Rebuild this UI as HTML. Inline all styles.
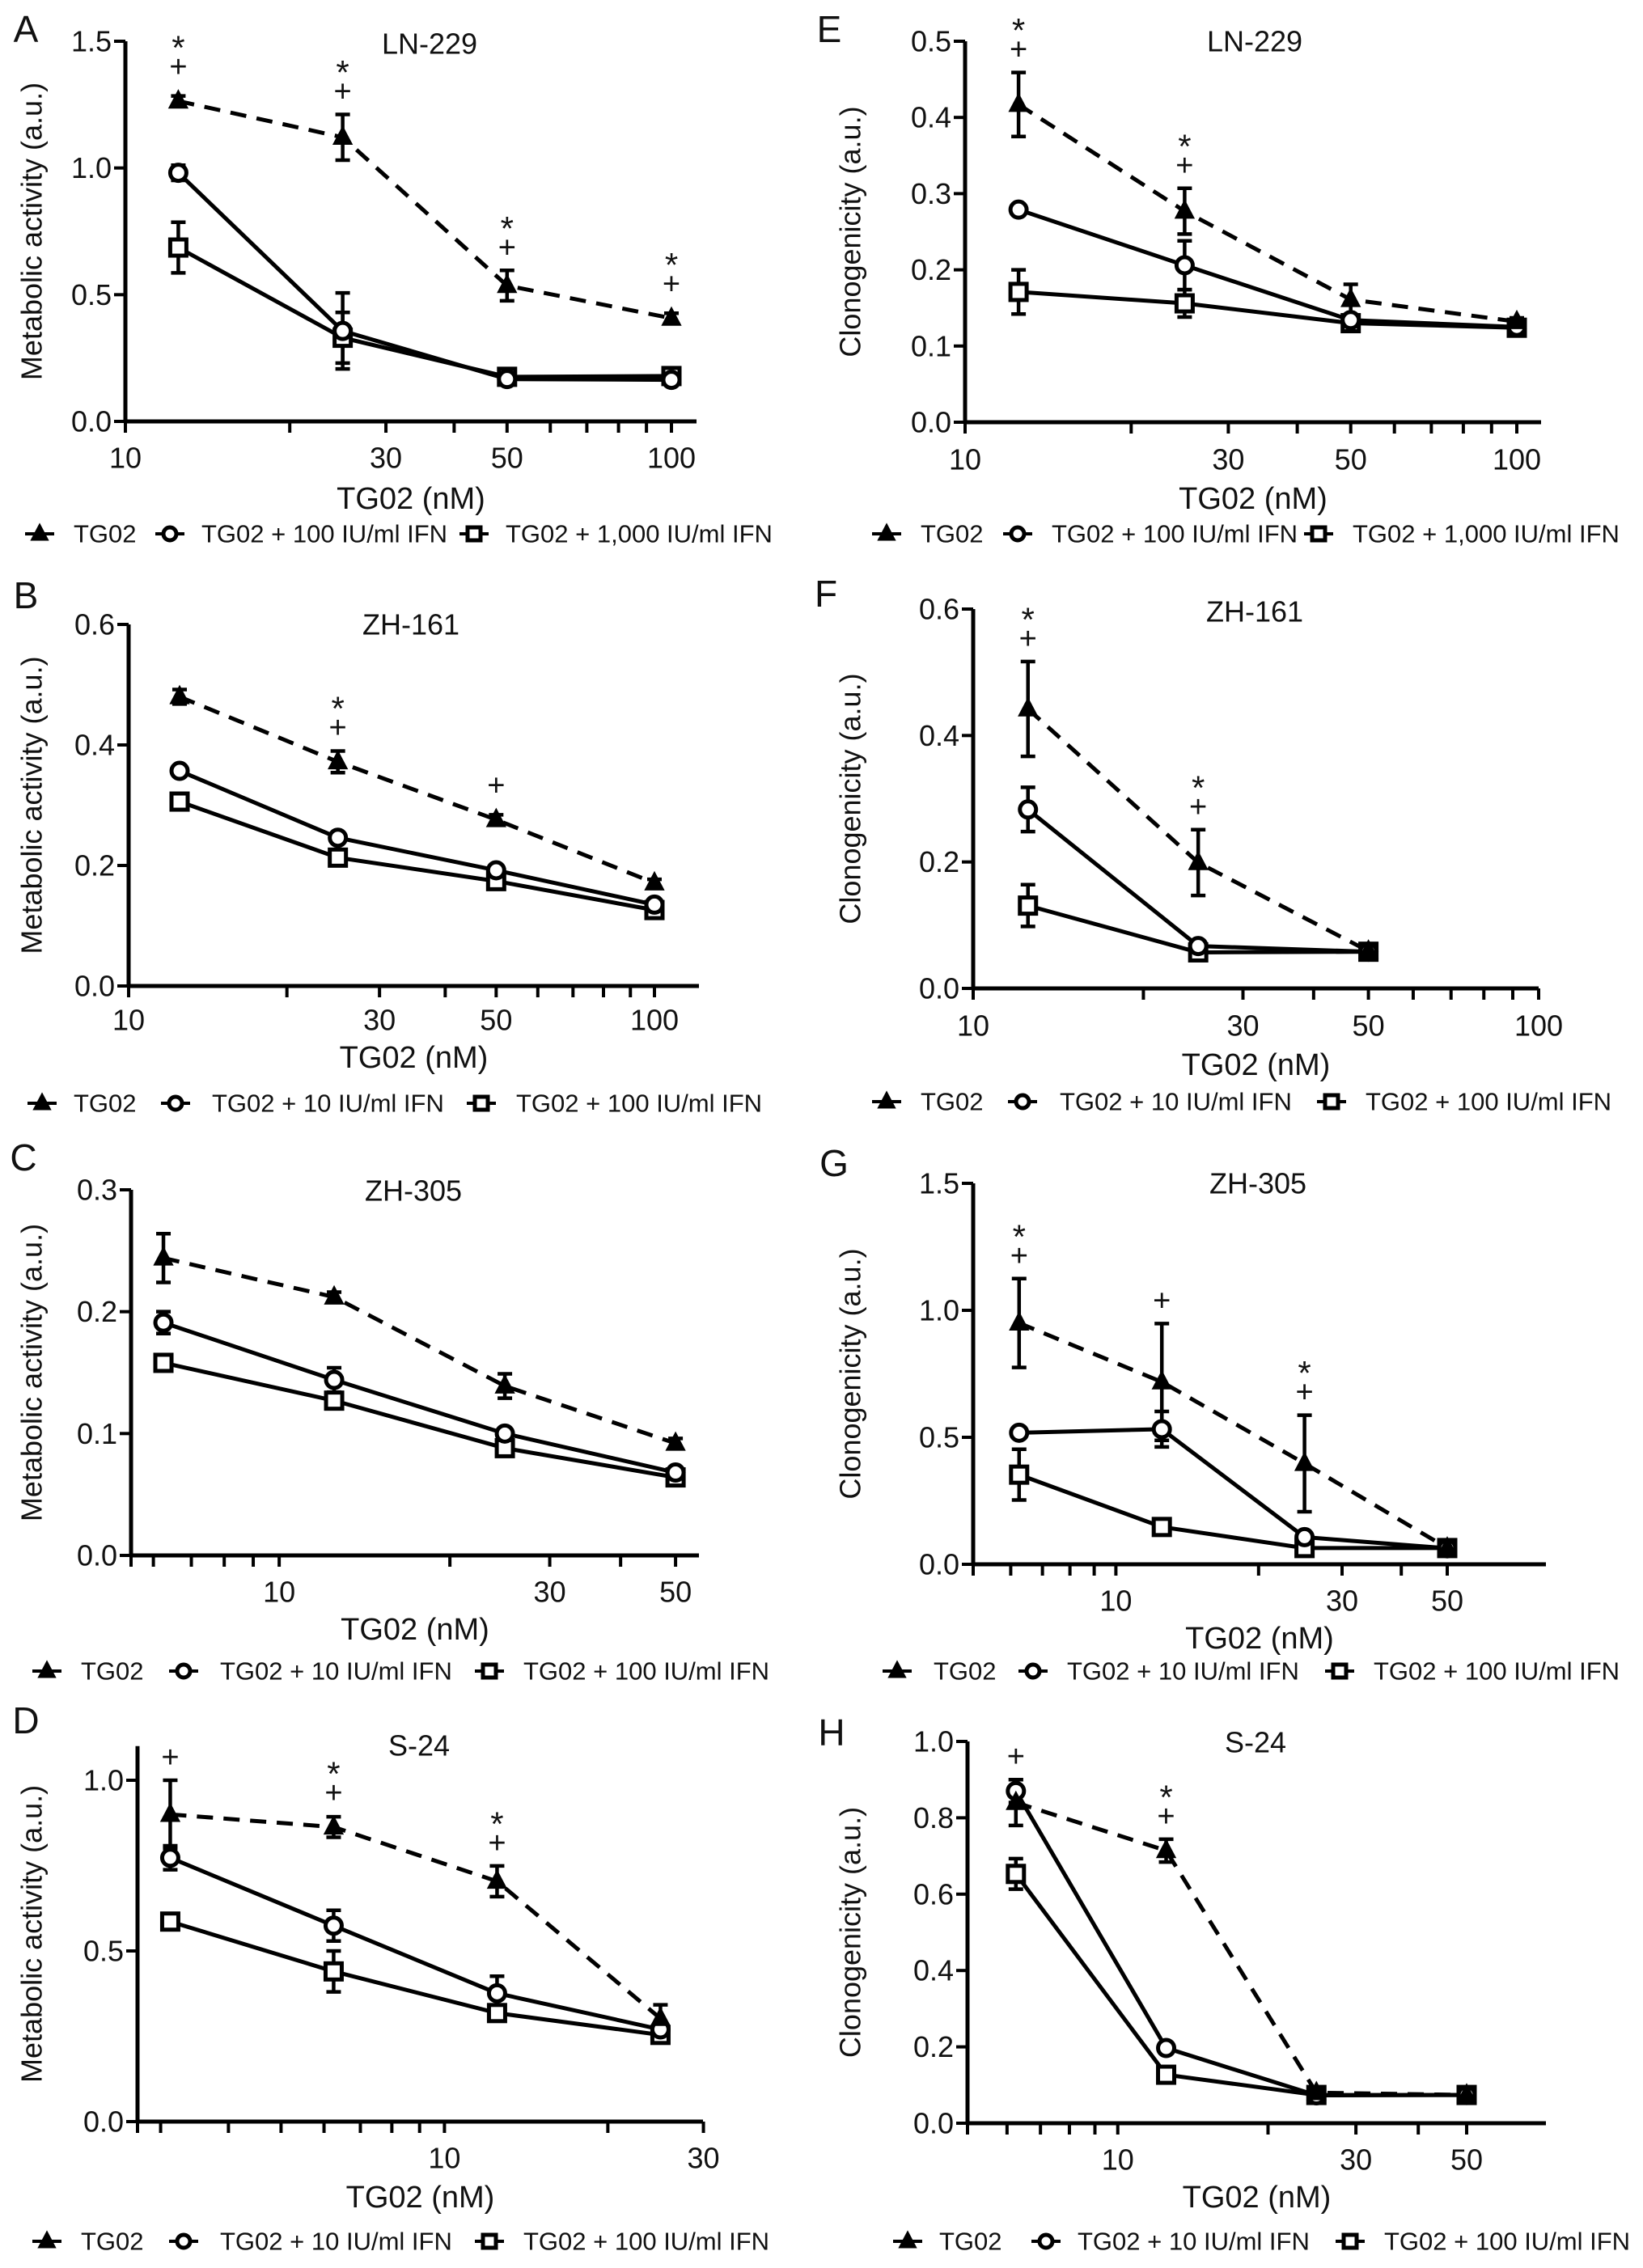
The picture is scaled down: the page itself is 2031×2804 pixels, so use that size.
<!DOCTYPE html>
<html><head><meta charset="utf-8"><style>
html,body{margin:0;padding:0;background:#fff}
svg{display:block}
text{font-family:"Liberation Sans",sans-serif;fill:#111}
</style></head><body>
<svg id="fig" width="2031" height="2804" viewBox="0 0 2031 2804" xmlns="http://www.w3.org/2000/svg"></svg>
<script>
// ---- data ----
const seriesNames=["TG02","IFN low","IFN high"];
// A LN-229 metabolic
const aDoses=[12.5,25,50,100];
const aTG02=[1.264,1.121,0.536,0.407], aTG02Err=[0.02,0.09,0.06,0.02];
const aLow=[0.981,0.357,0.167,0.164], aLowErr=[0.03,0.15,0.02,0.02];
const aHigh=[0.686,0.33,0.176,0.179], aHighErr=[0.1,0.1,0.02,0.02];
const aMarks=[[0,"*+"],[1,"*+"],[2,"*+"],[3,"*+"]];
// B ZH-161 metabolic
const bDoses=[12.5,25,50,100];
const bTG02=[0.48,0.372,0.276,0.171], bTG02Err=[0.012,0.018,0.008,0.006];
const bLow=[0.357,0.246,0.192,0.135], bLowErr=[0.006,0.008,0.006,0.006];
const bHigh=[0.306,0.213,0.174,0.126], bHighErr=[0.006,0.006,0.006,0.006];
const bMarks=[[1,"*+"],[2,"+"]];
// C ZH-305 metabolic
const cDoses=[6.25,12.5,25,50];
const cTG02=[0.244,0.212,0.139,0.092], cTG02Err=[0.02,0.004,0.01,0.004];
const cLow=[0.191,0.144,0.100,0.068], cLowErr=[0.009,0.01,0.004,0.004];
const cHigh=[0.158,0.127,0.088,0.064], cHighErr=[0.004,0.006,0.004,0.004];
const cMarks=[];
// D S-24 metabolic
const dDoses=[3.125,6.25,12.5,25];
const dTG02=[0.90,0.863,0.704,0.302], dTG02Err=[0.1,0.03,0.045,0.04];
const dLow=[0.773,0.574,0.376,0.27], dLowErr=[0.035,0.045,0.05,0.02];
const dHigh=[0.586,0.44,0.318,0.254], dHighErr=[0.02,0.06,0.02,0.01];
const dMarks=[[0,"+"],[1,"*+"],[2,"*+"]];
// E LN-229 clonogenicity
const eDoses=[12.5,25,50,100];
const eTG02=[0.417,0.277,0.161,0.132], eTG02Err=[0.042,0.03,0.02,0.005];
const eLow=[0.279,0.206,0.134,0.125], eLowErr=[0.004,0.032,0.005,0.004];
const eHigh=[0.171,0.156,0.13,0.124], eHighErr=[0.029,0.018,0.004,0.004];
const eMarks=[[0,"*+"],[1,"*+"]];
// F ZH-161 clonogenicity
const fDoses=[12.5,25,50];
const fTG02=[0.442,0.199,0.059], fTG02Err=[0.075,0.052,0.004];
const fLow=[0.283,0.067,0.058], fLowErr=[0.035,0.005,0.004];
const fHigh=[0.131,0.057,0.058], fHighErr=[0.033,0.004,0.004];
const fMarks=[[0,"*+"],[1,"*+"]];
// G ZH-305 clonogenicity
const gDoses=[6.25,12.5,25,50];
const gTG02=[0.95,0.718,0.397,0.064], gTG02Err=[0.175,0.23,0.19,0.01];
const gLow=[0.518,0.532,0.107,0.063], gLowErr=[0.01,0.07,0.01,0.01];
const gHigh=[0.353,0.147,0.064,0.064], gHighErr=[0.1,0.01,0.01,0.01];
const gMarks=[[0,"*+"],[1,"+"],[2,"*+"]];
// H S-24 clonogenicity
const hDoses=[6.25,12.5,25,50];
const hTG02=[0.84,0.714,0.08,0.074], hTG02Err=[0.06,0.03,0.01,0.005];
const hLow=[0.87,0.197,0.073,0.074], hLowErr=[0.03,0.01,0.005,0.005];
const hHigh=[0.653,0.127,0.074,0.074], hHighErr=[0.04,0.01,0.005,0.005];
const hMarks=[[0,"+"],[1,"*+"]];
const legA=["TG02","TG02 + 100 IU/ml IFN","TG02 + 1,000 IU/ml IFN"];
const legB=["TG02","TG02 + 10 IU/ml IFN","TG02 + 100 IU/ml IFN"];

const NS="http://www.w3.org/2000/svg";
const svg=document.getElementById('fig');
function mk(tag,attrs,parent){const e=document.createElementNS(NS,tag);for(const k in attrs)e.setAttribute(k,attrs[k]);(parent||svg).appendChild(e);return e;}
function txt(s,attrs,parent){const e=mk('text',attrs,parent);e.textContent=s;return e;}

const panels=[
 {id:'a',letter:'A',title:'LN-229',yl:'Metabolic activity (a.u.)',x0:155,v0:10,dec:675,xEnd:861,y0:521,yT:51,yTV:1.5,yMaxV:1.5,yTicks:[0,0.5,1.0,1.5],dp:1,
  minor:[20,30,40,50,60,70,80,90,100],xLab:[10,30,50,100],letP:[32,36],titP:[531,54],ylx:39,xlY:617,tkY:566,lgY:660,lg:[49,91,210,249,586,625],leg:legA,
  doses:aDoses,s:[aTG02,aLow,aHigh],e:[aTG02Err,aLowErr,aHighErr],marks:aMarks},
 {id:'b',letter:'B',title:'ZH-161',yl:'Metabolic activity (a.u.)',x0:159,v0:10,dec:650,xEnd:864,y0:1219,yT:772,yTV:0.6,yMaxV:0.6,yTicks:[0,0.2,0.4,0.6],dp:1,
  minor:[20,30,40,50,60,70,80,90,100],xLab:[10,30,50,100],letP:[32,736],titP:[508,772],ylx:39,xlY:1308,tkY:1261,lgY:1364,lg:[52,91,217,262,595,638],leg:legB,
  doses:bDoses,s:[bTG02,bLow,bHigh],e:[bTG02Err,bLowErr,bHighErr],marks:bMarks},
 {id:'c',letter:'C',title:'ZH-305',yl:'Metabolic activity (a.u.)',x0:162,v0:5.48,dec:701,xEnd:864,y0:1923,yT:1471,yTV:0.3,yMaxV:0.3,yTicks:[0,0.1,0.2,0.3],dp:1,
  minor:[6,7,8,9,10,20,30,40,50],xLab:[10,30,50],letP:[29,1431],titP:[511,1472],ylx:39,xlY:2015,tkY:1968,lgY:2066,lg:[58,100,227,272,605,647],leg:legB,
  doses:cDoses,s:[cTG02,cLow,cHigh],e:[cTG02Err,cLowErr,cHighErr],marks:cMarks},
 {id:'d',letter:'D',title:'S-24',yl:'Metabolic activity (a.u.)',x0:170,v0:2.72,dec:671,xEnd:869,y0:2623,yT:2201,yTV:1.0,yMaxV:1.1,yTicks:[0,0.5,1.0],dp:1,
  minor:[3,4,5,6,7,8,9,10,20,30],xLab:[10,30],letP:[32,2127],titP:[518,2158],ylx:39,xlY:2717,tkY:2668,lgY:2771,lg:[58,100,227,272,605,647],leg:legB,
  doses:dDoses,s:[dTG02,dLow,dHigh],e:[dTG02Err,dLowErr,dHighErr],marks:dMarks},
 {id:'e',letter:'E',title:'LN-229',yl:'Clonogenicity (a.u.)',x0:1193,v0:10,dec:682,xEnd:1905,y0:522,yT:51,yTV:0.5,yMaxV:0.5,yTicks:[0,0.1,0.2,0.3,0.4,0.5],dp:1,
  minor:[20,30,40,50,60,70,80,90,100],xLab:[10,30,50,100],letP:[1025,36],titP:[1551,51],ylx:1051,xlY:617,tkY:568,lgY:660,lg:[1096,1138,1258,1300,1630,1672],leg:legA,
  doses:eDoses,s:[eTG02,eLow,eHigh],e:[eTG02Err,eLowErr,eHighErr],marks:eMarks},
 {id:'f',letter:'F',title:'ZH-161',yl:'Clonogenicity (a.u.)',x0:1203,v0:10,dec:699,xEnd:1902,y0:1222,yT:753,yTV:0.6,yMaxV:0.6,yTicks:[0,0.2,0.4,0.6],dp:1,
  minor:[20,30,40,50,60,70,80,90,100],xLab:[10,30,50,100],letP:[1021,734],titP:[1551,756],ylx:1051,xlY:1317,tkY:1268,lgY:1362,lg:[1096,1138,1264,1310,1646,1688],leg:legB,
  doses:fDoses,s:[fTG02,fLow,fHigh],e:[fTG02Err,fLowErr,fHighErr],marks:fMarks},
 {id:'g',letter:'G',title:'ZH-305',yl:'Clonogenicity (a.u.)',x0:1203,v0:5,dec:586,xEnd:1911,y0:1934,yT:1463,yTV:1.5,yMaxV:1.5,yTicks:[0,0.5,1.0,1.5],dp:1,
  minor:[6,7,8,9,10,20,30,40,50],xLab:[10,30,50],letP:[1031,1438],titP:[1555,1463],ylx:1051,xlY:2026,tkY:1979,lgY:2066,lg:[1109,1154,1277,1319,1656,1698],leg:legB,
  doses:gDoses,s:[gTG02,gLow,gHigh],e:[gTG02Err,gLowErr,gHighErr],marks:gMarks},
 {id:'h',letter:'H',title:'S-24',yl:'Clonogenicity (a.u.)',x0:1196,v0:5,dec:617,xEnd:1911,y0:2625,yT:2153,yTV:1.0,yMaxV:1.0,yTicks:[0,0.2,0.4,0.6,0.8,1.0],dp:1,
  minor:[6,7,8,9,10,20,30,40,50],xLab:[10,30,50],letP:[1028,2142],titP:[1552,2154],ylx:1051,xlY:2717,tkY:2670,lgY:2771,lg:[1122,1161,1293,1332,1669,1711],leg:legB,
  doses:hDoses,s:[hTG02,hLow,hHigh],e:[hTG02Err,hLowErr,hHighErr],marks:hMarks}
];

function marker(g,type,cx,cy,r){
  if(type===0){return mk('polygon',{points:`${cx},${cy-r*1.15} ${cx+r},${cy+r*0.75} ${cx-r},${cy+r*0.75}`,fill:'#000',stroke:'#000','stroke-width':2},g);}
  if(type===1){return mk('circle',{cx:cx,cy:cy,r:r-1,fill:'#fff',stroke:'#000','stroke-width':5},g);}
  return mk('rect',{x:cx-r+1,y:cy-r+1,width:2*r-2,height:2*r-2,fill:'#fff',stroke:'#000','stroke-width':5},g);
}

panels.forEach(p=>{
  const g=mk('g',{});
  
  
  const X=v=>p.x0+p.dec*Math.log10(v/p.v0);
  const Y=v=>p.y0-(p.y0-p.yT)*v/p.yTV;
  const yTop=Y(p.yMaxV);
  const ya=mk('line',{x1:p.x0,y1:yTop,x2:p.x0,y2:p.y0+2,stroke:'#000','stroke-width':5},g);
  
  const xa=mk('line',{x1:p.x0-2,y1:p.y0,x2:p.xEnd,y2:p.y0,stroke:'#000','stroke-width':5},g);
  
  mk('line',{x1:p.x0,y1:p.y0,x2:p.x0,y2:p.y0+14,stroke:'#000','stroke-width':4},g);
  p.yTicks.forEach(t=>{
    const y=Y(t);
    mk('line',{x1:p.x0-14,y1:y,x2:p.x0,y2:y,stroke:'#000','stroke-width':4},g);
    const l=txt(t.toFixed(p.dp),{x:p.x0-17,y:y,'text-anchor':'end','dominant-baseline':'central','font-size':36},g);
    
  });
  p.minor.forEach(t=>{
    const x=X(t);
    mk('line',{x1:x,y1:p.y0,x2:x,y2:p.y0+14,stroke:'#000','stroke-width':4},g);
  });
  p.xLab.forEach(t=>{
    const l=txt(String(t),{x:X(t),y:p.tkY,'text-anchor':'middle','dominant-baseline':'central','font-size':36},g);
    
  });
  const yl=txt(p.yl,{x:p.ylx,y:(yTop+p.y0)/2,'text-anchor':'middle','dominant-baseline':'central','font-size':36,transform:`rotate(-90 ${p.ylx} ${(yTop+p.y0)/2})`},g);
  
  const xl=txt('TG02 (nM)',{x:(p.x0+p.xEnd)/2,y:p.xlY,'text-anchor':'middle','dominant-baseline':'central','font-size':38},g);
  
  const ti=txt(p.title,{x:p.titP[0],y:p.titP[1],'text-anchor':'middle','dominant-baseline':'central','font-size':36},g);
  
  const le=txt(p.letter,{x:p.letP[0],y:p.letP[1],'text-anchor':'middle','dominant-baseline':'central','font-size':46},g);
  
  [2,1,0].forEach(si=>{
    const vals=p.s[si],errs=p.e[si];
    const pts=vals.map((v,i)=>X(p.doses[i])+','+Y(v)).join(' ');
    const pl=mk('polyline',{points:pts,fill:'none',stroke:'#000','stroke-width':5,'stroke-dasharray':si===0?'20 13':'none'},g);
    
    
    vals.forEach((v,i)=>{
      const x=X(p.doses[i]);
      const y1=Y(v+errs[i]),y2=Y(v-errs[i]);
      if(y2-y1>6){
        mk('line',{x1:x,y1:y1,x2:x,y2:y2,stroke:'#000','stroke-width':4.5},g);
        mk('line',{x1:x-9,y1:y1,x2:x+9,y2:y1,stroke:'#000','stroke-width':4.5},g);
        mk('line',{x1:x-9,y1:y2,x2:x+9,y2:y2,stroke:'#000','stroke-width':4.5},g);
      }
    });
  });
  [2,1,0].forEach(si=>{
    p.s[si].forEach((v,i)=>{
      const m=marker(g,si,X(p.doses[i]),Y(v),11);
      
      
    });
  });
  p.marks.forEach(([i,s])=>{
    const x=X(p.doses[i]);
    let top=Math.min(Y(p.s[0][i]+p.e[0][i]),Y(p.s[0][i])-14);
    const hasStar=s.indexOf('*')>=0;
    const pl=txt('+',{x:x,y:top-28,'text-anchor':'middle','dominant-baseline':'central','font-size':38},g);
    
    if(hasStar){
      const st=txt('*',{x:x,y:top-52,'text-anchor':'middle','dominant-baseline':'central','font-size':42},g);
      
    }
  });
  for(let k=0;k<3;k++){
    const mx=p.lg[k*2],tx=p.lg[k*2+1];
    const lg=mk('g',{},g);
    
    
    mk('line',{x1:mx-18,y1:p.lgY,x2:mx+18,y2:p.lgY,stroke:'#000','stroke-width':4},lg);
    marker(lg,k,mx,p.lgY,k===0?10:9);
    txt(p.leg[k],{x:tx,y:p.lgY,'dominant-baseline':'central','font-size':31},lg);
  }
});
</script>
</body></html>
